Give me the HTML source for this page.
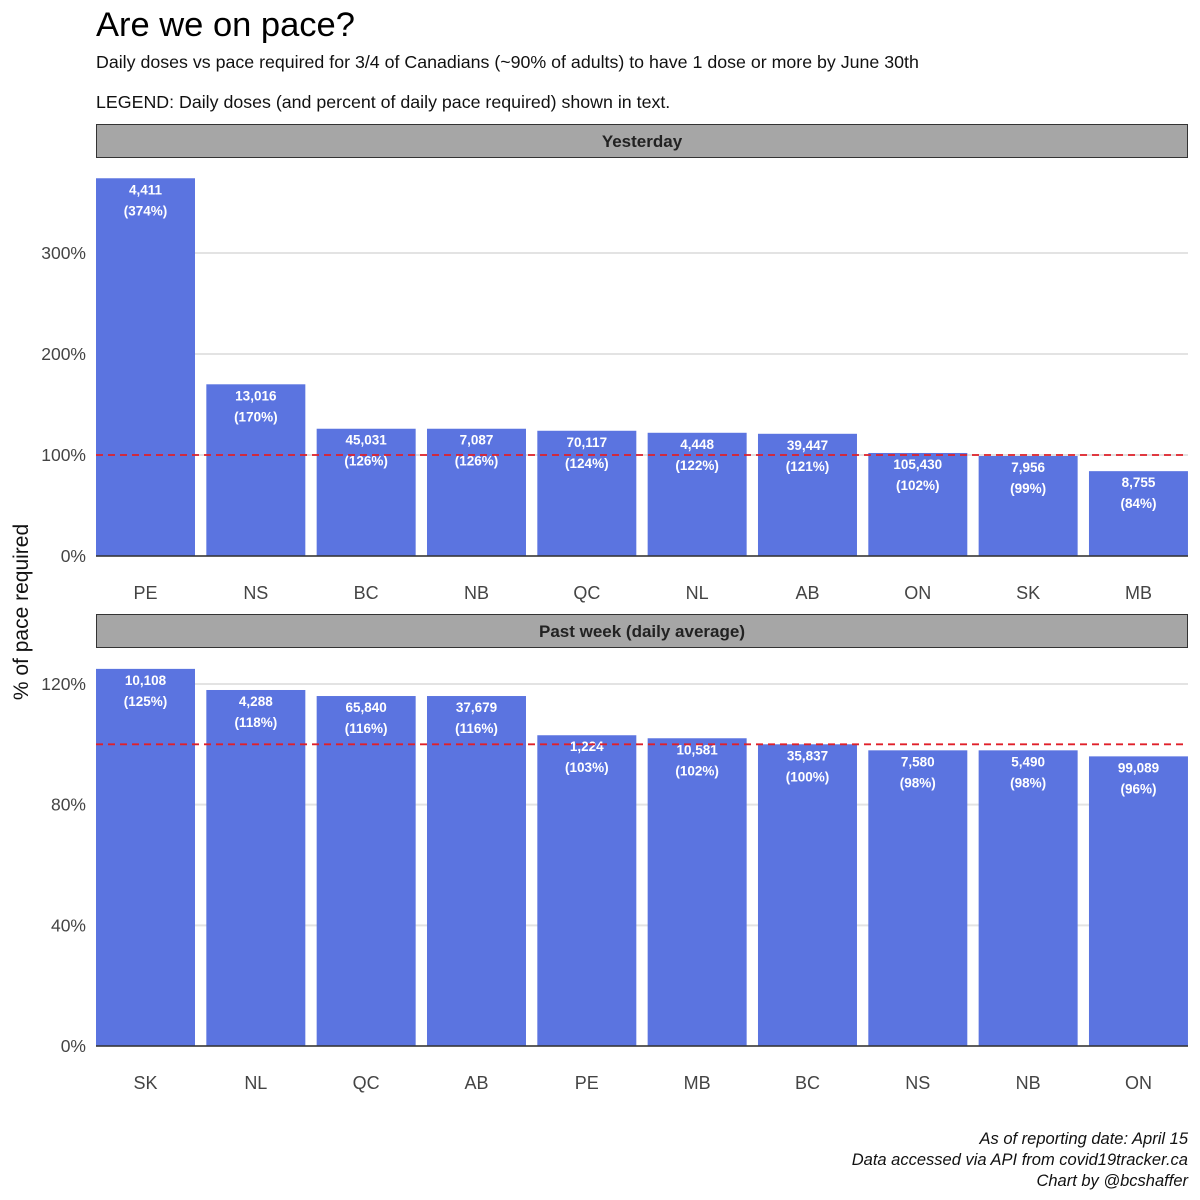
<!DOCTYPE html>
<html><head><meta charset="utf-8">
<style>
body{margin:0;background:#fff;}
svg{display:block;font-family:"Liberation Sans",sans-serif;}
</style></head>
<body>
<svg id="chart" width="1200" height="1200" viewBox="0 0 1200 1200">
<text x="96" y="36" font-size="34.5" fill="#000">Are we on pace?</text>
<text x="96" y="68" font-size="17.8" fill="#111">Daily doses vs pace required for 3/4 of Canadians (~90% of adults) to have 1 dose or more by June 30th</text>
<text x="96" y="108" font-size="17.8" fill="#111">LEGEND: Daily doses (and percent of daily pace required) shown in text.</text>
<text transform="translate(28,612) rotate(-90)" text-anchor="middle" font-size="21" fill="#111">% of pace required</text>
<g font-size="16.5" fill="#111" text-anchor="end" font-style="italic">
<text x="1188" y="1144">As of reporting date: April 15</text>
<text x="1188" y="1165">Data accessed via API from covid19tracker.ca</text>
<text x="1188" y="1186">Chart by @bcshaffer</text>
</g>
</svg>
<script>
const yCats=["PE","NS","BC","NB","QC","NL","AB","ON","SK","MB"];
const yPct=[374,170,126,126,124,122,121,102,99,84];
const yDoses=["4,411","13,016","45,031","7,087","70,117","4,448","39,447","105,430","7,956","8,755"];
const yTicks=[0,100,200,300];
const wCats=["SK","NL","QC","AB","PE","MB","BC","NS","NB","ON"];
const wPct=[125,118,116,116,103,102,100,98,98,96];
const wDoses=["10,108","4,288","65,840","37,679","1,224","10,581","35,837","7,580","5,490","99,089"];
const wTicks=[0,40,80,120];
const NS="http://www.w3.org/2000/svg";
const svg=document.getElementById('chart');
function mk(t,a,p){const e=document.createElementNS(NS,t);for(const k in a)e.setAttribute(k,a[k]);(p||svg).appendChild(e);return e;}
function panel(name,title,stripY,zeroY,pxPer,cats,pct,doses,ticks,labelY){
 const g=mk('g',{});
 
 
 const y=v=>zeroY-v*pxPer;
 const x=i=>96+i*110.33;
 const s=mk('rect',{x:96.5,y:stripY+0.5,width:1091,height:33,fill:'#a6a6a6',stroke:'#333'},g);
 
 
 const st=mk('text',{x:642,y:stripY+23,'text-anchor':'middle','font-size':17,'font-weight':'bold',fill:'#222'},g);
 st.textContent=title;
 
 
 ticks.forEach(t=>{
  const l=mk('line',{x1:96,x2:1188,y1:y(t),y2:y(t),stroke:'#e3e3e3','stroke-width':2},g);
  
  
  const tx=mk('text',{x:86,y:y(t)+6,'text-anchor':'end','font-size':17.5,fill:'#444'},g);
  tx.textContent=t+'%';
  
  
 });
 cats.forEach((c,i)=>{
  const r=mk('rect',{x:x(i),y:y(pct[i]),width:99,height:pct[i]*pxPer,fill:'#5b74e0'},g);
  
  
  const cx=x(i)+49.5;
  const t1=mk('text',{x:cx,y:y(pct[i])+16,'text-anchor':'middle','font-size':13.5,'font-weight':'bold',fill:'#fff'},g);
  t1.textContent=doses[i];
  
  
  const t2=mk('text',{x:cx,y:y(pct[i])+37,'text-anchor':'middle','font-size':13.5,'font-weight':'bold',fill:'#fff'},g);
  t2.textContent='('+pct[i]+'%)';
  
  
  const xl=mk('text',{x:cx,y:labelY,'text-anchor':'middle','font-size':18,fill:'#444'},g);
  xl.textContent=c;
  
  
 });
 const b=mk('line',{x1:96,x2:1188,y1:zeroY,y2:zeroY,stroke:'#333','stroke-width':1.5},g);
 
 
 const d=mk('line',{x1:96,x2:1188,y1:y(100),y2:y(100),stroke:'#e0202a','stroke-width':1.8,'stroke-dasharray':'7,5'},g);
 
 
}
panel('yesterday','Yesterday',124,556,1.01,yCats,yPct,yDoses,yTicks,599);
panel('past-week','Past week (daily average)',614,1046,3.017,wCats,wPct,wDoses,wTicks,1089);
</script>
</body></html>
